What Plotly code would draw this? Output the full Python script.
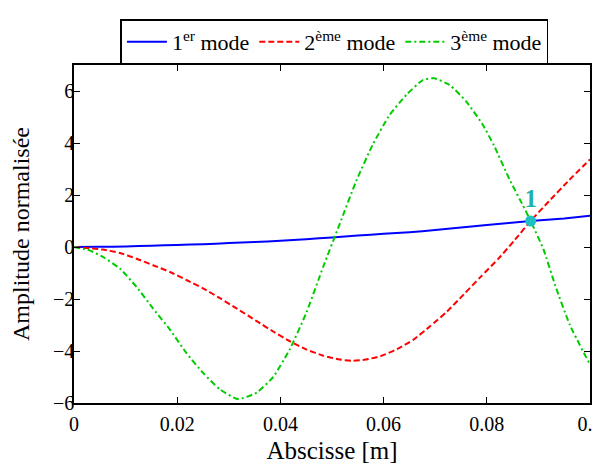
import plotly.graph_objects as go

# Mode 1 (blue)
x1 = [0.0, 0.005, 0.01, 0.015, 0.02, 0.025, 0.03, 0.035, 0.04, 0.045, 0.05, 0.055,
      0.06, 0.065, 0.07, 0.075, 0.08, 0.0885, 0.095, 0.1]
y1 = [0.0, 0.005, 0.02, 0.05, 0.08, 0.11, 0.15, 0.19, 0.24, 0.30, 0.37, 0.44,
      0.51, 0.57, 0.65, 0.75, 0.85, 1.0, 1.1, 1.2]

# Mode 2 (red)
x2 = [0.0, 0.0056, 0.0089, 0.0121, 0.0153, 0.0186, 0.0218, 0.025, 0.0283, 0.0315, 0.0354,
      0.0386, 0.0418, 0.045, 0.0483, 0.0515, 0.054, 0.0565, 0.0594, 0.0626, 0.0658, 0.069,
      0.0723, 0.0755, 0.0788, 0.0823, 0.0855, 0.0885, 0.092, 0.096, 0.1]
y2 = [0.0, -0.1, -0.23, -0.45, -0.7, -0.96, -1.27, -1.59, -1.97, -2.36, -2.85,
      -3.25, -3.62, -3.94, -4.18, -4.33, -4.38, -4.33, -4.2, -3.93, -3.56, -3.05,
      -2.48, -1.83, -1.15, -0.44, 0.29, 1.0, 1.75, 2.58, 3.37]

# Mode 3 (green)
x3 = [0.0, 0.003, 0.0056, 0.0089, 0.0121, 0.0153, 0.0186, 0.0218, 0.025, 0.0283, 0.0318,
      0.0354, 0.0386, 0.0418, 0.045, 0.0483, 0.0515, 0.0547, 0.0579, 0.0612, 0.0644,
      0.0676, 0.0698, 0.0728, 0.076, 0.0792, 0.0814, 0.0844, 0.087, 0.0885, 0.091,
      0.0933, 0.0961, 0.1]
y3 = [0.0, -0.13, -0.38, -0.83, -1.53, -2.36, -3.18, -4.08, -4.84, -5.48, -5.85,
      -5.6, -5.0, -3.94, -2.54, -0.76, 0.89, 2.54, 3.94, 5.09, 5.85,
      6.42, 6.49, 6.23, 5.6, 4.71, 3.9, 2.6, 1.6, 1.0, -0.1,
      -1.5, -3.0, -4.52]

# Normalisation point
px = [0.0885]
py = [1.0]
plabel = ["<b>1</b>"]

xticks = [0, 0.02, 0.04, 0.06, 0.08, 0.1]
xticktext = ["0", "0.02", "0.04", "0.06", "0.08", "0.1"]
yticks = [-6, -4, -2, 0, 2, 4, 6]

font = "Liberation Serif, Times New Roman, Times, serif"

fig = go.Figure()
fig.add_trace(go.Scatter(x=x1, y=y1, mode="lines", name="1<sup>er</sup> mode",
                         line=dict(color="#0000FF", width=2, shape="spline", smoothing=0.5)))
fig.add_trace(go.Scatter(x=x2, y=y2, mode="lines", name="2<sup>ème</sup> mode",
                         line=dict(color="#FF0000", width=2, dash="6px,3px", shape="spline", smoothing=0.5)))
fig.add_trace(go.Scatter(x=x3, y=y3, mode="lines", name="3<sup>ème</sup> mode",
                         line=dict(color="#00CC00", width=2, dash="6px,3px,2px,3px", shape="spline", smoothing=0.5)))
fig.add_trace(go.Scatter(x=px, y=py, mode="markers+text", text=plabel, textposition="top center",
                         textfont=dict(family=font, size=25, color="#1FB0B0"),
                         marker=dict(color="#1FC0C0", size=11), showlegend=False))

axis_common = dict(showline=True, linecolor="black", linewidth=1.5, mirror="ticks",
                   ticks="inside", ticklen=6, tickcolor="black", showgrid=False, zeroline=False,
                   automargin=False, ticklabeloverflow="allow",
                   tickfont=dict(family=font, size=20, color="black"))
# The page body has an 8px default margin, so the figure is sized to fit the window.
fig.update_layout(
    width=593, height=456,
    margin=dict(l=66, r=11, t=55, b=61),
    paper_bgcolor="white", plot_bgcolor="white",
    font=dict(family=font, color="black"),
    xaxis=dict(range=[0, 0.1], tickvals=xticks, ticktext=xticktext, ticklabelstandoff=2,
               title=dict(text="Abscisse [m]", font=dict(family=font, size=25), standoff=8),
               **axis_common),
    yaxis=dict(range=[-6, 7], tickvals=yticks, ticklabelstandoff=-6,
               title=dict(text="Amplitude normalisée", font=dict(family=font, size=24), standoff=19),
               **axis_common),
    legend=dict(orientation="h", x=0.09, y=1.135, xanchor="left", yanchor="top",
                bordercolor="black", borderwidth=1.5, bgcolor="white",
                font=dict(family=font, size=22), itemwidth=40, tracegroupgap=0),
)

fig.write_html("out.html")
